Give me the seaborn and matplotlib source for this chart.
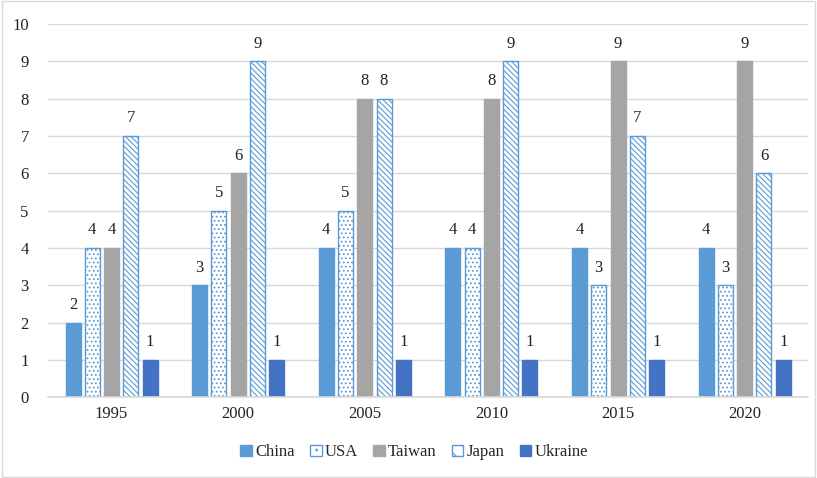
import pandas as pd
import matplotlib.pyplot as plt
import matplotlib.patches as mpatches
import seaborn as sns

years = ['1995', '2000', '2005', '2010', '2015', '2020']
countries = ['China', 'USA', 'Taiwan', 'Japan', 'Ukraine']
china = [2, 3, 4, 4, 4, 4]
usa = [4, 5, 5, 4, 3, 3]
taiwan = [4, 6, 8, 8, 9, 9]
japan = [7, 9, 8, 9, 7, 6]
ukraine = [1, 1, 1, 1, 1, 1]

rows = []
for name, vals in zip(countries, [china, usa, taiwan, japan, ukraine]):
    for y, v in zip(years, vals):
        rows.append({'year': y, 'country': name, 'value': v})
df = pd.DataFrame(rows)

sns.set_theme(style='white')
plt.rcParams['font.family'] = ['Liberation Serif', 'DejaVu Serif']
plt.rcParams['hatch.linewidth'] = 0.8

blue = '#5B9BD5'
fills = {'China': blue, 'USA': 'white', 'Taiwan': '#A5A5A5', 'Japan': 'white', 'Ukraine': '#4472C4'}
hatches = {'China': '', 'USA': '....', 'Taiwan': '', 'Japan': '\\\\\\\\\\\\', 'Ukraine': ''}
edges = {'China': blue, 'USA': blue, 'Taiwan': '#A5A5A5', 'Japan': blue, 'Ukraine': '#4472C4'}

fig = plt.figure(figsize=(8.17, 4.78), dpi=100)
ax = fig.add_axes([0.059, 0.169, 0.930, 0.781])

sns.barplot(data=df, x='year', y='value', hue='country', hue_order=countries,
            palette=fills, width=0.76, gap=0.22, ax=ax, legend=False)

for cont, name in zip(ax.containers, countries):
    for bar in cont:
        bar.set_facecolor(fills[name])
        bar.set_edgecolor(edges[name])
        bar.set_hatch(hatches[name])
        bar.set_linewidth(1.0)
    ax.bar_label(cont, padding=7, fontsize=12, color='#222222')

ax.set_ylim(0, 10)
ax.set_yticks(range(0, 11))
ax.yaxis.grid(True, color='#D9D9D9', linewidth=1)
ax.set_axisbelow(True)
for s in ['top', 'right', 'left']:
    ax.spines[s].set_visible(False)
ax.spines['bottom'].set_color('#D9D9D9')
ax.set_xlabel('')
ax.set_ylabel('')
ax.tick_params(axis='both', length=0, labelsize=12, colors='#222222')
ax.tick_params(axis='y', pad=14)
ax.tick_params(axis='x', pad=6)

handles = [mpatches.Patch(facecolor=fills[n], edgecolor=edges[n], hatch=hatches[n][:2], label=n)
           for n in countries]
fig.legend(handles=handles, loc='center', bbox_to_anchor=(0.507, 0.054), ncol=5,
           frameon=False, fontsize=12, handlelength=0.7, handleheight=0.7,
           handletextpad=0.2, columnspacing=0.9)

fig.patches.append(mpatches.Rectangle((0.002, 0.002), 0.996, 0.996, transform=fig.transFigure,
                                      fill=False, edgecolor='#D9D9D9', linewidth=1))

fig.savefig('out.png', dpi=100)
